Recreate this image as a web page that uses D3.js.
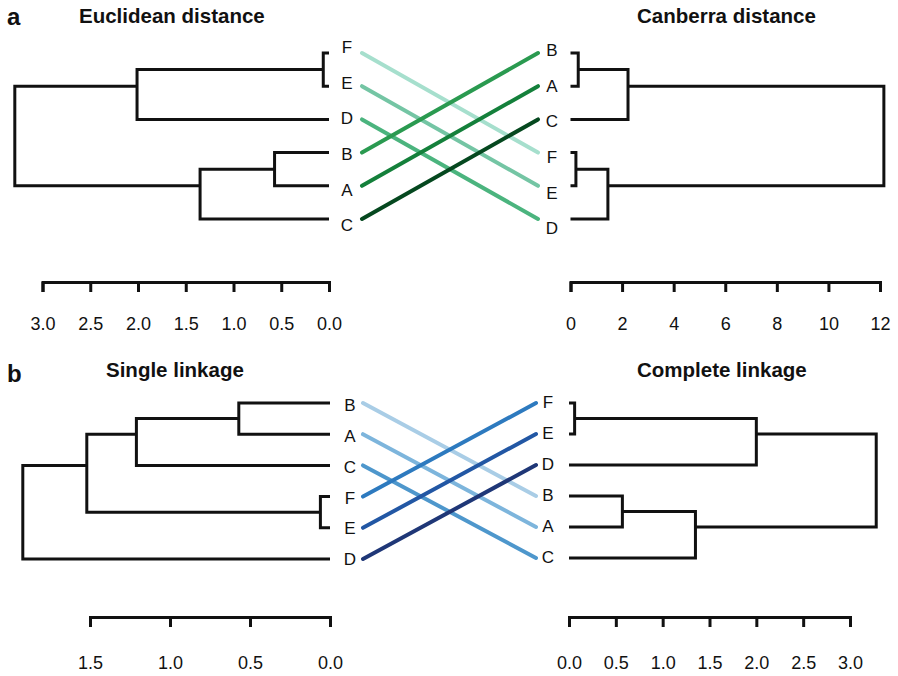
<!DOCTYPE html>
<html>
<head>
<meta charset="utf-8">
<script src="https://cdn.jsdelivr.net/npm/d3@7"></script>
<style>
  body { margin: 0; background: #fff; }
  text { font-family: "Liberation Sans", Arial, Helvetica, sans-serif; fill: #111; }
</style>
</head>
<body>
<div id="container"></div>
<script>
const w = 898;
const h = 676;

// panel a: Euclidean vs Canberra
const leavesEuclid = ["F", "E", "D", "B", "A", "C"];
const mergesEuclid = [["F", "E", 0.06], ["B", "A", 0.57], ["BA", "C", 1.35], ["FE", "D", 2.01], ["FED", "BAC", 3.29]];
const leavesCanberra = ["B", "A", "C", "F", "E", "D"];
const mergesCanberra = [["B", "A", 0.3], ["F", "E", 0.21], ["FE", "D", 1.45], ["BA", "C", 2.23], ["BAC", "FED", 12.15]];
const ticksEuclid = [0, 0.5, 1, 1.5, 2, 2.5, 3];
const ticksCanberra = [0, 2, 4, 6, 8, 10, 12];
const colorsA = ["#a6dfcd", "#74c5a4", "#4bb47e", "#2a9a50", "#14803b", "#05481f"];

// panel b: single vs complete linkage
const leavesSingle = ["B", "A", "C", "F", "E", "D"];
const mergesSingle = [["B", "A", 0.57], ["F", "E", 0.06], ["BA", "C", 1.21], ["BAC", "FE", 1.52], ["BACFE", "D", 1.92]];
const leavesComplete = ["F", "E", "D", "B", "A", "C"];
const mergesComplete = [["F", "E", 0.06], ["B", "A", 0.57], ["BA", "C", 1.35], ["FE", "D", 2.0], ["FED", "BAC", 3.28]];
const ticksSingle = [0, 0.5, 1, 1.5];
const ticksComplete = [0, 0.5, 1, 1.5, 2, 2.5, 3];
const colorsB = ["#a9cde6", "#7db5dc", "#4e97cc", "#2d7abf", "#2257a4", "#1f3777"];

const svg = d3.select("#container")
  .append("svg")
  .attr("width", w)
  .attr("height", h)
  .style("background-color", "#fff");

function drawTree(leaves, merges, xScale, yScale) {
  const nodes = new Map();
  leaves.forEach(l => nodes.set(l, { x: xScale(0), leaves: [l] }));
  const g = svg.append("g");
  merges.forEach(([a, b, height]) => {
    const na = nodes.get(a);
    const nb = nodes.get(b);
    const ya = d3.mean(na.leaves, l => yScale(l));
    const yb = d3.mean(nb.leaves, l => yScale(l));
    const x = xScale(height);
    g.append("path")
      .attr("d", `M${na.x},${ya}H${x}V${yb}H${nb.x}`)
      .attr("fill", "none")
      .attr("stroke", "#111")
      .attr("stroke-width", 3)
      .attr("stroke-linejoin", "miter");
    nodes.set(a + b, { x, leaves: na.leaves.concat(nb.leaves) });
  });
}

function drawLabels(leaves, x, yLab) {
  svg.append("g")
    .selectAll("text")
    .data(leaves)
    .enter()
    .append("text")
    .attr("x", x)
    .attr("y", d => yLab(d))
    .attr("dy", "0.36em")
    .attr("text-anchor", "middle")
    .style("font-size", "17px")
    .text(d => d);
}

function drawAxis(xScale, ticks, y, fmt, pad) {
  const axis = d3.axisBottom(xScale)
    .tickValues(ticks)
    .tickFormat(fmt)
    .tickSize(10)
    .tickPadding(pad);
  const g = svg.append("g")
    .attr("transform", `translate(0, ${y})`)
    .call(axis);
  g.selectAll("path, line")
    .attr("stroke", "#111")
    .attr("stroke-width", 3);
  g.selectAll("text")
    .style("font-size", "18px")
    .style("font-family", "'Liberation Sans', Arial, sans-serif")
    .attr("fill", "#111");
}

function drawLinks(leftLeaves, yLeft, yRight, x1, x2, colors) {
  svg.append("g")
    .selectAll("line")
    .data(leftLeaves)
    .enter()
    .append("line")
    .attr("x1", x1)
    .attr("x2", x2)
    .attr("y1", d => yLeft(d))
    .attr("y2", d => yRight(d))
    .attr("stroke", (d, i) => colors[i])
    .attr("stroke-width", 4)
    .attr("stroke-linecap", "round");
}

function title(txt, x, y, size) {
  svg.append("text")
    .attr("x", x)
    .attr("y", y)
    .style("font-size", size + "px")
    .style("font-weight", "bold")
    .text(txt);
}

// ---- panel a ----
const xEuclid = d3.scaleLinear().domain([0, 3]).range([329, 42.5]);
const xCanberra = d3.scaleLinear().domain([0, 12]).range([570.5, 880]);
const yEuclid = d3.scalePoint().domain(leavesEuclid).range([53, 219]);
const yCanberra = d3.scalePoint().domain(leavesCanberra).range([53, 219]);
const labEuclid = d3.scalePoint().domain(leavesEuclid).range([47, 225]);
const labCanberra = d3.scalePoint().domain(leavesCanberra).range([50, 228]);

drawLinks(leavesEuclid, yEuclid, yCanberra, 362, 538, colorsA);
drawTree(leavesEuclid, mergesEuclid, xEuclid, yEuclid);
drawTree(leavesCanberra, mergesCanberra, xCanberra, yCanberra);
drawLabels(leavesEuclid, 347, labEuclid);
drawLabels(leavesCanberra, 552, labCanberra);
drawAxis(xEuclid, ticksEuclid, 282, d3.format(".1f"), 25);
drawAxis(xCanberra, ticksCanberra, 282, d3.format("d"), 25);
title("a", 7, 25, 24);
title("Euclidean distance", 79, 23, 20.5);
title("Canberra distance", 637, 23, 20.5);

// ---- panel b ----
const xSingle = d3.scaleLinear().domain([0, 1.5]).range([330, 90]);
const xComplete = d3.scaleLinear().domain([0, 3]).range([569, 850]);
const ySingle = d3.scalePoint().domain(leavesSingle).range([403, 559]);
const yComplete = d3.scalePoint().domain(leavesComplete).range([403, 558]);
const labSingle = d3.scalePoint().domain(leavesSingle).range([405, 559]);
const labComplete = d3.scalePoint().domain(leavesComplete).range([402, 557]);

drawLinks(leavesSingle, ySingle, yComplete, 363, 536, colorsB);
drawTree(leavesSingle, mergesSingle, xSingle, ySingle);
drawTree(leavesComplete, mergesComplete, xComplete, yComplete);
drawLabels(leavesSingle, 350, labSingle);
drawLabels(leavesComplete, 548, labComplete);
drawAxis(xSingle, ticksSingle, 617, d3.format(".1f"), 29);
drawAxis(xComplete, ticksComplete, 617, d3.format(".1f"), 29);
title("b", 7, 382, 24);
title("Single linkage", 106, 377, 20.5);
title("Complete linkage", 637, 377, 20.5);
</script>
</body>
</html>
